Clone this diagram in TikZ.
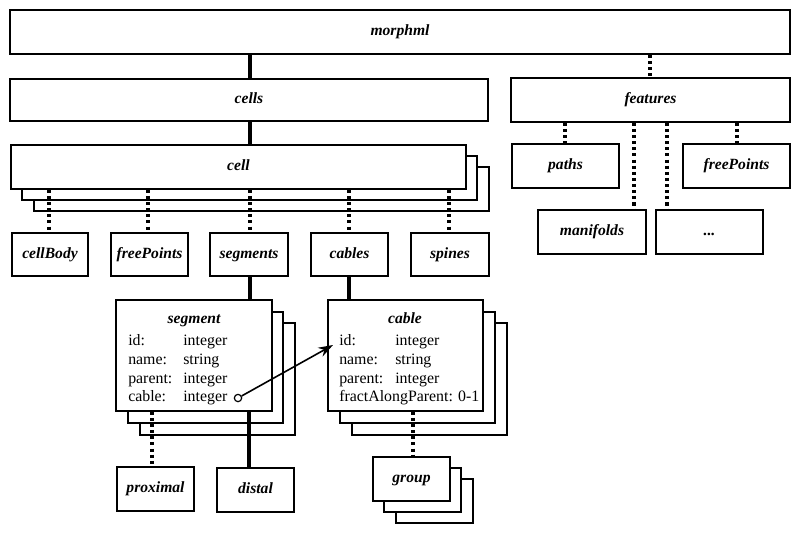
\documentclass[tikz,border=0pt]{standalone}
\usepackage{fontspec}
\setmainfont{Liberation Serif}
\usetikzlibrary{arrows.meta}
\tikzset{
  box/.style={draw, line width=1.1pt, fill=white, inner sep=0pt, text height=8.2pt, text depth=2.6pt, font=\fontsize{11.7}{14}\selectfont\bfseries\itshape},
  shadowbox/.style={draw, line width=1.1pt, fill=white},
  solidlink/.style={line width=2.4pt},
  dotlink/.style={line width=2.4pt, dash pattern=on 2.3pt off 2.3pt},
  txt/.style={inner sep=0pt, anchor=base west, font=\fontsize{11.9}{14}\selectfont},
  ttl/.style={inner sep=0pt, anchor=base, font=\fontsize{11.7}{14}\selectfont\bfseries\itshape},
}
\newcommand\bx[6]{\node[box, minimum width={(#4-#2)*0.75pt}, minimum height={(#5-#3)*0.75pt}] (#1) at ({(#2+#4)/2},{(#3+#5)/2}) {#6};}
\newcommand\shd[4]{\draw[shadowbox] (#1,#2) rectangle (#3,#4);}
\begin{document}
\begin{tikzpicture}[x=0.75pt,y=-0.75pt]
\useasboundingbox (0,0) rectangle (800,533);
% top
\bx{morphml}{10}{10}{790}{54}{morphml}
\bx{cells}{10}{79}{488}{121}{cells}
\bx{features}{511}{78}{790}{122}{features}
\draw[solidlink] (morphml.south -| 250,0) -- (cells.north -| 250,0);
\draw[dotlink] (morphml.south -| 650,0) -- (features.north -| 650,0);
% cell stack
\shd{34}{167}{489}{211}
\shd{22}{156}{477}{200}
\bx{cell}{11}{145}{466}{189}{cell}
\draw[solidlink] (cells.south -| 250,0) -- (cell.north -| 250,0);
% row of children
\bx{cellBody}{12}{233}{88}{276}{cellBody}
\bx{freePointsA}{111}{233}{188}{276}{freePoints}
\bx{segments}{210}{233}{288}{276}{segments}
\bx{cables}{311}{233}{388}{276}{cables}
\bx{spines}{411}{233}{489}{276}{spines}
\foreach \n/\x in {cellBody/49,freePointsA/148,segments/250,cables/349,spines/449}
  \draw[dotlink] (cell.south -| \x,0) -- (\n.north -| \x,0);
% features children
\bx{paths}{512}{144}{619}{188}{paths}
\bx{freePointsB}{683}{144}{790}{188}{freePoints}
\bx{manifolds}{538}{210}{646}{254}{manifolds}
\bx{others}{656}{210}{763}{254}{...}
\foreach \n/\x in {paths/565,manifolds/634,others/667,freePointsB/737}
  \draw[dotlink] (features.south -| \x,0) -- (\n.north -| \x,0);
% segment stack
\shd{140}{323}{295}{435}
\shd{128}{312}{283}{423}
\bx{segment}{116}{300}{272}{411}{}
\draw[solidlink] (segments.south -| 250,0) -- (segment.north -| 250,0);
\node[ttl] (segT) at (194,323) {segment};
\node[txt] (s1a) at (128,345) {id:};      \node[txt] (s1b) at (183,345) {integer};
\node[txt] (s2a) at (128,364) {name:};    \node[txt] (s2b) at (183,364) {string};
\node[txt] (s3a) at (128,383) {parent:};  \node[txt] (s3b) at (183,383) {integer};
\node[txt] (s4a) at (128,401) {cable:};   \node[txt] (s4b) at (183,401) {integer};
% cable stack
\shd{352}{323}{507}{435}
\shd{340}{312}{495}{423}
\bx{cable}{328}{300}{483}{411}{}
\draw[solidlink] (cables.south -| 349,0) -- (cable.north -| 349,0);
\node[ttl] (cabT) at (405,323) {cable};
\node[txt] (c1a) at (339,345) {id:};      \node[txt] (c1b) at (395,345) {integer};
\node[txt] (c2a) at (339,364) {name:};    \node[txt] (c2b) at (395,364) {string};
\node[txt] (c3a) at (339,383) {parent:};  \node[txt] (c3b) at (395,383) {integer};
\node[txt] (c4a) at (339,401) {fractAlongParent: 0-1};
% reference arrow
\node[circle, draw, line width=0.9pt, fill=white, inner sep=0pt, minimum size=5.5pt] (ref) at (238,398) {};
\coordinate (refend) at (333,345);
\draw[line width=1.2pt, -{Stealth[length=11pt,width=7.5pt]}] (ref) -- (refend);
% proximal / distal
\bx{proximal}{117}{467}{194}{511}{proximal}
\bx{distal}{217}{468}{294}{512}{distal}
\draw[dotlink] (segment.south -| 152,0) -- (proximal.north -| 152,0);
\draw[solidlink] (segment.south -| 249,0) -- (distal.north -| 249,0);
% group stack
\shd{396}{479}{473}{523}
\shd{384}{468}{461}{512}
\bx{group}{373}{457}{450}{501}{group}
\draw[dotlink] (cable.south -| 413,0) -- (group.north -| 413,0);
\end{tikzpicture}
\end{document}
